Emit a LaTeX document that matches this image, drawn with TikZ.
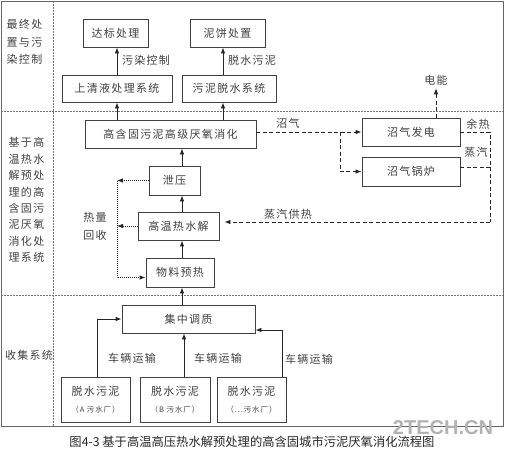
\documentclass[tikz,border=0pt]{standalone}
\usepackage{fontspec}
\setmainfont{Liberation Serif}
\newfontfamily\cjk[LetterSpace=12]{Noto Sans CJK SC}
\newfontfamily\capfont{Noto Sans CJK SC}
\newfontfamily\wmfont{Liberation Sans}
\usetikzlibrary{arrows.meta,calc}
\begin{document}
\begin{tikzpicture}[x=1pt,y=-1pt,
  box/.style={draw=black!75, line width=0.8pt, fill=white, inner sep=0pt, text=black!75,
    font=\cjk\fontsize{11}{17}\selectfont, align=center, minimum height=28},
  lbl/.style={inner sep=0pt, text=black!75, font=\cjk\fontsize{11}{17.5}\selectfont, align=center},
  arr/.style={-{Latex[length=6pt,width=4.5pt]}, line width=0.8pt, draw=black!85},
  dsh/.style={dash pattern=on 4pt off 2.5pt, line width=1pt, draw=black!85},
  dot/.style={dash pattern=on 1pt off 1pt, line width=1pt, draw=black!85},
  sep/.style={dash pattern=on 2pt off 1pt, line width=0.6pt, draw=black!55}]
\useasboundingbox (0,0) rectangle (507,455);
% frame and separators
\draw[black!60, line width=0.8pt] (1,1) rectangle (503,426);
\draw[sep] (1,111) -- (503,111);
\draw[sep] (1,295) -- (503,295);
\draw[sep] (53,1) -- (53,426);
% section labels
\node[lbl] (L1) at (24.5,42) {最终处\\置与污\\染控制};
\node[lbl, font=\cjk\fontsize{11}{16.4}\selectfont] (L2) at (26.5,200) {基于高\\温热水\\解预处\\理的高\\含固污\\泥厌氧\\消化处\\理系统};
\node[lbl] (L3) at (29,355) {收集系统};
% top section
\node[box, minimum width=65] (t1) at (115.5,33) {达标处理};
\node[box, minimum width=75] (t2) at (227.5,33) {泥饼处置};
\node[box, minimum width=110, minimum height=27] (s1) at (117,88.5) {上清液处理系统};
\node[box, minimum width=94, minimum height=27] (s2) at (229,88.5) {污泥脱水系统};
\coordinate (c2) at (223,0);
\draw[arr] (s1.north) -- (s1.north |- t1.south);
\draw[arr] (c2 |- s2.north) -- (c2 |- t2.south);
\node[lbl] (k1) at (146,60) {污染控制};
\node[lbl] (k2) at (252,60) {脱水污泥};
% middle section
\node[box, minimum width=171] (ad) at (170.5,134) {高含固污泥高级厌氧消化};
\node[box, minimum width=51, minimum height=29] (xy) at (174.5,180.5) {泄压};
\node[box, minimum width=81] (hy) at (178.5,226) {高温热水解};
\node[box, minimum width=68, minimum height=29] (wl) at (180,272.5) {物料预热};
\draw[arr] (s1.south |- ad.north) -- (s1.south);
\draw[arr] (c2 |- ad.north) -- (c2 |- s2.south);
\coordinate (vx) at (182,0);
\draw[arr] (vx |- wl.north) -- (vx |- hy.south);
\draw[arr] (vx |- hy.north) -- (vx |- xy.south);
\draw[arr] (vx |- xy.north) -- (vx |- ad.south);
% heat recovery
\coordinate (hx) at (117,0);
\coordinate (wlin) at ([yshift=-5pt]wl.west);
\draw[dot, arr] (xy.west) -- (xy.west -| hx);
\draw[dot, arr] (hy.west) -- (hy.west -| hx);
\draw[dot, arr] (xy.west -| hx) -- (wlin -| hx) -- (wlin);
\node[lbl] (k3) at (95,226.5) {热量\\回收};
% biogas
\node[box, minimum width=98] (ge) at (411,132) {沼气发电};
\node[box, minimum width=98, minimum height=29] (gb) at (411,171.5) {沼气锅炉};
\coordinate (br) at (340,0);
\coordinate (rc) at (490,0);
\draw[dsh, arr] (ge.west -| ad.east) -- (ge.west);
\draw[dsh, arr] (br |- ge.west) -- (br |- gb.west) -- (gb.west);
\node[lbl] (k4) at (288,123) {沼气};
\node[lbl] (dn) at (436,80) {电能};
\draw[dsh, arr] (dn.south |- ge.north) -- ([yshift=-3pt]dn.south);
\coordinate (hyin) at ([yshift=4pt]hy.east);
\draw[dsh] (ge.east) -- (ge.east -| rc) -- (hyin -| rc);
\draw[dsh] ([yshift=4pt]gb.east) -- ([yshift=4pt]gb.east -| rc);
\draw[dsh, arr, shorten >=5pt] (hyin -| rc) -- (hyin);
\node[lbl] (k5) at (478,124) {余热};
\node[lbl] (k6) at (476,152) {蒸汽};
\node[lbl] (k7) at (288,214) {蒸汽供热};
% collection
\node[box, minimum width=133] (jz) at (188.5,319) {集中调质};
\draw[arr] (vx |- jz.north) -- (vx |- wl.south);
\node[box, minimum width=69, minimum height=45] (A) at (95.5,399.5) {脱水污泥\\{\fontsize{7.5}{9}\selectfont （A 污水厂）}};
\node[box, minimum width=70, minimum height=45] (B) at (175,399.5) {脱水污泥\\{\fontsize{7.5}{9}\selectfont （B 污水厂）}};
\node[box, minimum width=69, minimum height=45] (C) at (251.5,399.5) {脱水污泥\\{\fontsize{7.5}{9}\selectfont （...污水厂）}};
\coordinate (ax) at (97,0);
\coordinate (bx) at (184,0);
\coordinate (cx) at (282,0);
\coordinate (jzr) at ([yshift=-11pt]jz.east);
\draw[arr] (ax |- A.north) -- (ax |- jz.west) -- (jz.west);
\draw[arr] (bx |- B.north) -- (bx |- jz.south);
\draw[arr] (cx |- C.north) -- (cx |- jzr) -- (jzr);
\node[lbl] (v1) at (132,358) {车辆运输};
\node[lbl] (v2) at (218,358) {车辆运输};
\node[lbl] (v3) at (309,359) {车辆运输};
% caption and watermark
\node[inner sep=0pt, text=black!85, font=\capfont\fontsize{12.3}{14}\selectfont] (cap) at (252,441.5) {图4-3 基于高温高压热水解预处理的高含固城市污泥厌氧消化流程图};
\node[inner sep=0pt, text=black!30, font=\wmfont\bfseries\fontsize{20}{20}\selectfont] (wm) at (443,427.5) {2TECH.CN};
\end{tikzpicture}
\end{document}
